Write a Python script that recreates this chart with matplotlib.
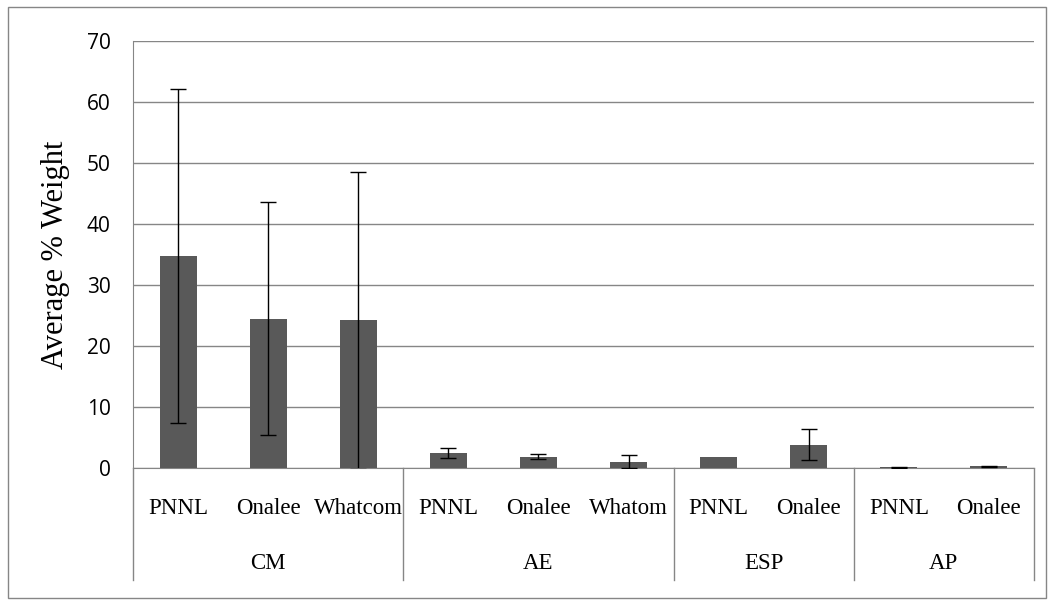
import matplotlib
matplotlib.use("Agg")
from matplotlib import pyplot as plt
from matplotlib.patches import Rectangle
import numpy as np

# data
groups = ["CM", "AE", "ESP", "AP"]
group_sizes = [3, 3, 2, 2]
sites = ["PNNL", "Onalee", "Whatcom", "PNNL", "Onalee", "Whatom", "PNNL", "Onalee", "PNNL", "Onalee"]
means = [34.7, 24.5, 24.2, 2.5, 1.85, 1.05, 1.85, 3.85, 0.1, 0.25]
errors = [27.4, 19.1, 24.4, 0.85, 0.45, 1.1, 0.0, 2.55, 0.03, 0.05]  # 0 = no bar shown
yticks = [0, 10, 20, 30, 40, 50, 60, 70]

serif = "Liberation Serif"
grey = "#868686"

fig = plt.figure(figsize=(10.54, 6.06), dpi=100)
fig.patches.append(Rectangle((0.008, 0.013), 0.984, 0.975, transform=fig.transFigure,
                             fill=False, edgecolor=grey, linewidth=1))
ax = fig.add_axes([0.1262, 0.2277, 0.8548, 0.7046])

x = np.arange(len(means))
m = np.array(means)
e = np.array(errors)
has_err = e > 0
ax.bar(x, m, width=0.41, color="#595959", zorder=3)
ax.errorbar(x[has_err], m[has_err], yerr=e[has_err], fmt="none", ecolor="black",
            elinewidth=1, capsize=6, capthick=1, zorder=4)

ax.set_xlim(-0.5, len(means) - 0.5)
ax.set_ylim(0, 70)
ax.set_yticks(yticks)
ax.set_yticklabels([str(t) for t in yticks], fontsize=15, family="Open Sans")
ax.tick_params(axis="y", length=0, pad=16)
ax.tick_params(axis="x", length=0)
ax.set_xticks([])
ax.grid(axis="y", color=grey, linewidth=1, zorder=0)
for s in ["top", "right"]:
    ax.spines[s].set_visible(False)
ax.spines["left"].set_color(grey)
ax.spines["bottom"].set_color(grey)
ax.set_ylabel("Average % Weight", fontsize=22, family=serif, labelpad=12)

trans = ax.get_xaxis_transform()
for xi, name in zip(x, sites):
    ax.text(xi, -0.094, name, transform=trans, ha="center", va="center",
            fontsize=16.5, family=serif, clip_on=False)

edges = np.concatenate([[0], np.cumsum(group_sizes)]) - 0.5
for i, g in enumerate(groups):
    ax.text((edges[i] + edges[i + 1]) / 2, -0.2225, g, transform=trans, ha="center",
            va="center", fontsize=16.5, family=serif, clip_on=False)
for ed in edges:
    ax.plot([ed, ed], [0, -0.262], transform=trans, color=grey, linewidth=1, clip_on=False)

fig.savefig("out.png", dpi=100)
